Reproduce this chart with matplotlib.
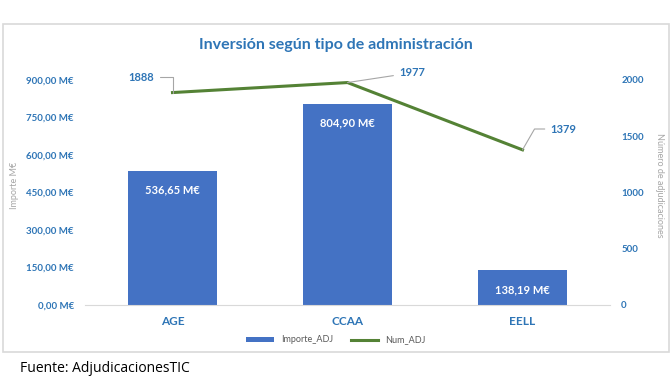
import matplotlib.pyplot as plt
from matplotlib.patches import Rectangle
from matplotlib.ticker import FuncFormatter

categorias = ['AGE', 'CCAA', 'EELL']
importe_adj = [536.65, 804.90, 138.19]
num_adj = [1888, 1977, 1379]
ticks_importe = [0, 150, 300, 450, 600, 750, 900]
ticks_num = [0, 500, 1000, 1500, 2000]

azul_barra = '#4472C4'
verde = '#548235'
azul_texto = '#2E75B6'
gris = '#A6A6A6'

plt.rcParams['font.family'] = ['Lato', 'DejaVu Sans']

fig = plt.figure(figsize=(6.72, 3.78), dpi=100)
ax = fig.add_axes([85 / 672, 1 - 305 / 378, 525 / 672, 240 / 378])
ax2 = ax.twinx()

x = range(len(categorias))
barras = ax.bar(x, importe_adj, width=0.51, color=azul_barra, label='Importe_ADJ', zorder=2)
linea, = ax2.plot(x, num_adj, color=verde, lw=2.2, label='Num_ADJ', zorder=3)

ax.set_xlim(-0.5, 2.5)
ax.set_ylim(0, 960)
ax2.set_ylim(0, 2133)
ax.set_yticks(ticks_importe)
ax2.set_yticks(ticks_num)
ax.yaxis.set_major_formatter(FuncFormatter(lambda v, p: f'{v:.2f}'.replace('.', ',') + ' M€'))
ax.set_xticks(list(x))
ax.set_xticklabels(categorias, fontweight='bold', color=azul_texto, fontsize=8.5)

for a in (ax, ax2):
    for s in a.spines.values():
        s.set_visible(False)
    a.tick_params(length=0)
ax.spines['bottom'].set_visible(True)
ax.spines['bottom'].set_color('#D9D9D9')
ax.tick_params(axis='y', labelcolor=azul_texto, labelsize=7, pad=8)
ax.tick_params(axis='x', pad=8)
ax2.tick_params(axis='y', labelcolor=azul_texto, labelsize=7, pad=8)
for t in ax.get_yticklabels() + ax2.get_yticklabels():
    t.set_fontweight('bold')

ax.set_ylabel('Importe M€', color=gris, fontsize=6.5)
ax.yaxis.set_label_coords(-0.125, 0.5)
ax2.set_ylabel('Número de adjudicaciones', color=gris, fontsize=6.5, rotation=270, va='center')
ax2.yaxis.set_label_coords(1.095, 0.5)

# etiquetas de las barras
for i, v in enumerate(importe_adj):
    texto = f'{v:.2f}'.replace('.', ',') + ' M€'
    ax.annotate(texto, (i, v), xytext=(0, -14), textcoords='offset points',
                ha='center', va='center', color='white', fontweight='bold', fontsize=8)

# etiquetas de la linea con lineas guia
desplaz = [(-13, 11), (37, 7), (20, 15)]
conex = ['angle,angleA=0,angleB=90,rad=0', 'arc3', 'angle,angleA=0,angleB=60,rad=0']
for i, (v, d, c) in enumerate(zip(num_adj, desplaz, conex)):
    ha = 'right' if d[0] < 0 else 'left'
    ax2.annotate(str(v), (i, v), xytext=d, textcoords='offset points',
                 ha=ha, va='center', color=azul_texto, fontsize=8, fontweight='bold',
                 arrowprops=dict(arrowstyle='-', color=gris, lw=0.8, shrinkA=2, shrinkB=0,
                                 connectionstyle=c))

fig.suptitle('Inversión según tipo de administración', x=0.5, y=0.9,
             color=azul_texto, fontweight='bold', fontsize=11.5)

fig.legend([barras, linea], ['Importe_ADJ', 'Num_ADJ'], loc='center',
           bbox_to_anchor=(0.5, 1 - 340 / 378), ncol=2, frameon=False,
           fontsize=6.5, labelcolor='#595959', handlelength=3, handleheight=0.5)

fig.patches.append(Rectangle((3 / 672, 1 - 352 / 378), 666 / 672, 328 / 378,
                             transform=fig.transFigure, fill=False,
                             edgecolor='#D9D9D9', lw=1.2))
fig.text(20 / 672, 1 - 368 / 378, 'Fuente: AdjudicacionesTIC', fontsize=10,
         va='center', family=['Open Sans', 'DejaVu Sans'])

fig.savefig('out.png', dpi=100)
